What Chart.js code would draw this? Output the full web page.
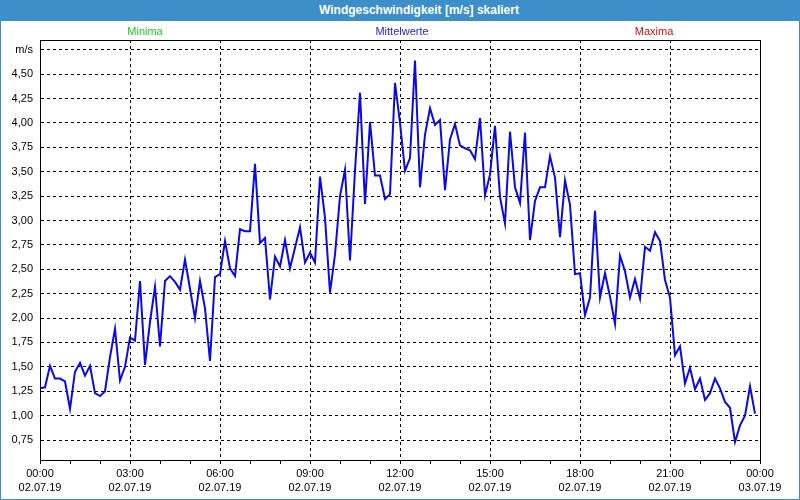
<!DOCTYPE html>
<html>
<head>
<meta charset="utf-8">
<script src="https://cdn.jsdelivr.net/npm/chart.js@4.4.0/dist/chart.umd.min.js"></script>
<style>
  html, body { margin: 0; padding: 0; background: #fff; }
  #wrap { position: relative; width: 800px; height: 500px; box-sizing: border-box; border: 1px solid #3c8fc8; overflow: hidden; font-family: "Liberation Sans", Arial, sans-serif; }
  #chartBox { position: absolute; left: -1px; top: -1px; width: 800px; height: 500px; }
  #titlebar { position: absolute; left: -1px; top: -1px; width: 800px; height: 21px; background: #3c8fc8; }
  #titlebar span { position: absolute; left: 319px; top: 3px; color: #fff; font-weight: bold; font-size: 12px; }
  .leg { position: absolute; top: 24px; font-size: 11px; line-height: 13px; transform: translateX(-50%); white-space: nowrap; }
</style>
</head>
<body>
<div id="wrap">
  <div id="chartBox"><canvas id="windChart"></canvas></div>
  <div id="titlebar"><span>Windgeschwindigkeit [m/s] skaliert</span></div>
  <div class="leg" style="left:144px; color:#22cc22;">Minima</div>
  <div class="leg" style="left:401px; color:#2222ee;">Mittelwerte</div>
  <div class="leg" style="left:653px; color:#cc1111;">Maxima</div>
</div>
<script>
// 10-Minuten-Mittelwerte 02.07.19 00:00 - 23:50 (m/s)
const sampleMinutes = 10;
const mittelwerte = [
  1.28, 1.29, 1.51, 1.38, 1.38, 1.35, 1.07, 1.45, 1.54, 1.41, 1.51, 1.23,
  1.20, 1.25, 1.60, 1.89, 1.36, 1.50, 1.80, 1.77, 2.38, 1.52, 1.96, 2.32,
  1.71, 2.38, 2.43, 2.37, 2.29, 2.60, 2.30, 2.00, 2.38, 2.10, 1.56, 2.42,
  2.45, 2.79, 2.51, 2.43, 2.91, 2.89, 2.89, 3.58, 2.77, 2.82, 2.19, 2.63,
  2.53, 2.80, 2.51, 2.72, 2.93, 2.57, 2.67, 2.57, 3.45, 3.03, 2.26, 2.65,
  3.25, 3.52, 2.59, 3.51, 4.31, 3.17, 4.01, 3.46, 3.46, 3.22, 3.27, 4.41,
  4.00, 3.51, 3.64, 4.64, 3.34, 3.88, 4.15, 3.98, 4.03, 3.31, 3.83, 3.99,
  3.77, 3.74, 3.72, 3.63, 4.05, 3.26, 3.47, 3.97, 3.24, 2.97, 3.91, 3.34,
  3.18, 3.90, 2.80, 3.20, 3.34, 3.34, 3.66, 3.44, 2.83, 3.41, 3.16, 2.45,
  2.46, 2.03, 2.21, 3.10, 2.21, 2.46, 2.22, 1.94, 2.64, 2.48, 2.21, 2.40,
  2.20, 2.73, 2.69, 2.88, 2.79, 2.39, 2.21, 1.62, 1.71, 1.33, 1.49, 1.27,
  1.38, 1.16, 1.23, 1.38, 1.28, 1.14, 1.08, 0.73, 0.90, 1.00, 1.30, 1.02
];
const tickTimes = ["00:00", "03:00", "06:00", "09:00", "12:00", "15:00", "18:00", "21:00", "00:00"];
const tickDates = ["02.07.19", "02.07.19", "02.07.19", "02.07.19", "02.07.19", "02.07.19", "02.07.19", "02.07.19", "03.07.19"];

const points = mittelwerte.map((v, i) => ({ x: i * sampleMinutes / 60, y: v }));

const frame = {
  id: "frame",
  afterDraw(chart) {
    const { ctx, chartArea: a } = chart;
    ctx.save();
    ctx.strokeStyle = "#000";
    ctx.lineWidth = 1;
    ctx.setLineDash([]);
    ctx.strokeRect(Math.round(a.left) + 0.5, Math.round(a.top) + 0.5, Math.round(a.right - a.left), Math.round(a.bottom - a.top));
    ctx.restore();
  }
};

const font = { family: "'Liberation Sans', Arial, sans-serif", size: 11 };

new Chart(document.getElementById("windChart").getContext("2d"), {
  type: "line",
  data: {
    datasets: [{
      label: "Mittelwerte",
      data: points,
      borderColor: "#0a0ae6",
      borderWidth: 2,
      pointRadius: 0,
      tension: 0,
      fill: false
    }]
  },
  options: {
    responsive: true,
    maintainAspectRatio: false,
    animation: false,
    layout: { padding: { left: 0, right: 40, top: 40, bottom: 0 } },
    plugins: { legend: { display: false }, tooltip: { enabled: false } },
    scales: {
      x: {
        type: "linear",
        min: 0,
        max: 24,
        ticks: {
          stepSize: 1,
          autoSkip: false,
          maxRotation: 0,
          padding: 2,
          color: "#000",
          font: { ...font, lineHeight: 1.36 },
          callback: (v) => (v % 3 === 0 ? [tickTimes[v / 3], tickDates[v / 3]] : "")
        },
        grid: {
          color: (c) => (c.tick && c.tick.value % 3 === 0 ? "#000" : "rgba(0,0,0,0)"),
          tickColor: "#000",
          tickLength: 4,
          lineWidth: 1
        },
        border: { color: "#000", dash: [3, 3] },
        afterFit: (s) => { s.height = 40; }
      },
      y: {
        min: 0.545,
        max: 4.85,
        ticks: {
          stepSize: 0.25,
          includeBounds: false,
          padding: 7,
          color: "#000",
          font: font,
          callback: (v) => (Math.abs(v - 4.75) < 1e-6 ? "m/s" : v.toFixed(2).replace(".", ","))
        },
        grid: { color: "#000", drawTicks: false, lineWidth: 1 },
        border: { color: "#000", dash: [3, 3] },
        afterFit: (s) => { s.width = 40; }
      }
    }
  },
  plugins: [frame]
});
</script>
</body>
</html>
